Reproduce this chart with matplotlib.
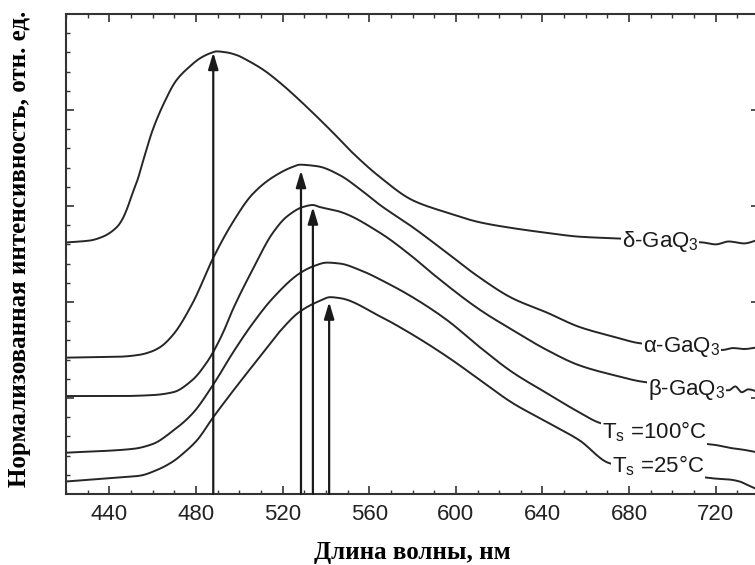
import matplotlib
matplotlib.use("Agg")
import numpy as np
import matplotlib.pyplot as plt
from matplotlib.ticker import MultipleLocator

plt.rcParams["font.family"] = ["Liberation Sans", "DejaVu Sans"]
plt.rcParams["mathtext.fontset"] = "custom"
plt.rcParams["mathtext.rm"] = "Liberation Sans"
plt.rcParams["mathtext.default"] = "regular"

# Photoluminescence spectra, normalized and offset vertically
wl_delta = [420, 431, 437, 443.5, 446, 448, 451, 453, 456, 460, 465, 471, 477, 482, 486.5,
            489.5, 494, 499, 503.5, 511, 519, 526.5, 534, 543, 552.5, 565, 580, 596,
            611, 626, 642, 657, 676, 714, 720, 726, 733, 740]
i_delta = [2.62, 2.64, 2.68, 2.78, 2.86, 2.96, 3.15, 3.27, 3.50, 3.79, 4.06, 4.31, 4.45,
           4.54, 4.59, 4.61, 4.60, 4.57, 4.52, 4.42, 4.28, 4.13, 3.97, 3.77, 3.55, 3.30,
           3.06, 2.93, 2.83, 2.77, 2.72, 2.68, 2.66, 2.62, 2.60, 2.63, 2.61, 2.65]

wl_alpha = [420, 445, 454, 459, 463.5, 469.5, 478.5, 488, 497, 506, 515.5, 525, 528,
            534, 537, 546.5, 556, 565, 580, 596, 610, 626, 642, 657, 672.5, 685,
            723, 728, 733, 740]
i_alpha = [1.42, 1.43, 1.45, 1.48, 1.53, 1.66, 1.99, 2.46, 2.83, 3.12, 3.30, 3.41, 3.43,
           3.42, 3.41, 3.32, 3.17, 3.01, 2.78, 2.51, 2.27, 2.04, 1.89, 1.74, 1.64, 1.57,
           1.50, 1.52, 1.51, 1.53]

wl_beta = [420, 445, 460, 469.5, 478.5, 485, 488, 492.5, 497, 506, 515.5, 522, 529.5, 534,
           537, 546.5, 565, 580, 589.5, 611, 626, 642, 657, 672.5, 686, 726, 729,
           732, 735, 740]
i_beta = [1.02, 1.02, 1.03, 1.06, 1.19, 1.37, 1.48, 1.68, 1.92, 2.33, 2.72, 2.89, 2.99, 3.01,
          2.99, 2.94, 2.72, 2.47, 2.29, 1.92, 1.71, 1.50, 1.34, 1.24, 1.17, 1.08, 1.12,
          1.06, 1.09, 1.06]

wl_t100 = [420, 451, 460, 469.5, 478.5, 488, 497, 506, 515.5, 528, 534, 540.5, 546.5, 556,
           568, 580, 596, 611, 626, 642, 657, 666.5, 712.5, 720, 726.5, 733, 740]
i_t100 = [0.43, 0.47, 0.52, 0.66, 0.84, 1.14, 1.47, 1.77, 2.04, 2.30, 2.37, 2.41, 2.40, 2.33,
          2.20, 2.05, 1.81, 1.53, 1.27, 1.05, 0.85, 0.74, 0.53, 0.51, 0.48, 0.46, 0.43]

wl_t25 = [420, 443.5, 454, 462, 469.5, 474, 480.5, 488, 497, 506, 513, 519, 528, 537, 542,
          546.5, 565, 580, 596, 611, 626, 642, 657, 671, 712.5, 720, 726.5, 731, 735, 740]
i_t25 = [0.13, 0.17, 0.19, 0.25, 0.34, 0.42, 0.56, 0.80, 1.07, 1.33, 1.53, 1.70, 1.90, 2.01,
         2.05, 2.04, 1.85, 1.66, 1.43, 1.19, 0.95, 0.75, 0.56, 0.32, 0.18, 0.16, 0.15, 0.13,
         0.09, 0.04]

# Peak positions marked with arrows (wavelength, arrow top)
peak_wl = [488, 528.5, 534, 541.5]
peak_top = [4.60, 3.37, 2.99, 2.00]

series = [
    (wl_delta, i_delta, r"δ-GaQ$_3$", 676.5, 2.57),
    (wl_alpha, i_alpha, r"α-GaQ$_3$", 686.5, 1.48),
    (wl_beta, i_beta, r"β-GaQ$_3$", 688.5, 1.03),
    (wl_t100, i_t100, r"T$_s$ =100°C", 667.5, 0.58),
    (wl_t25, i_t25, r"T$_s$ =25°C", 672.0, 0.22),
]


def pchip(x, y, per_seg=16):
    """Shape-preserving cubic through the spectrum points, for a smooth trace."""
    x = np.asarray(x, float)
    y = np.asarray(y, float)
    h = np.diff(x)
    d = np.diff(y) / h
    m = np.zeros_like(y)
    m[0], m[-1] = d[0], d[-1]
    for k in range(1, len(x) - 1):
        if d[k - 1] * d[k] > 0:
            w1 = 2 * h[k] + h[k - 1]
            w2 = h[k] + 2 * h[k - 1]
            m[k] = (w1 + w2) / (w1 / d[k - 1] + w2 / d[k])
    xs, ys = [], []
    t = np.linspace(0, 1, per_seg, endpoint=False)
    for k in range(len(x) - 1):
        h00 = 2 * t**3 - 3 * t**2 + 1
        h10 = t**3 - 2 * t**2 + t
        h01 = -2 * t**3 + 3 * t**2
        h11 = t**3 - t**2
        xs.append(x[k] + t * h[k])
        ys.append(h00 * y[k] + h10 * h[k] * m[k] + h01 * y[k + 1] + h11 * h[k] * m[k + 1])
    xs.append([x[-1]])
    ys.append([y[-1]])
    return np.concatenate(xs), np.concatenate(ys)


fig = plt.figure(figsize=(7.55, 5.65), dpi=100)
ax = fig.add_axes([0.0874, 0.1257, 0.918, 0.8496])

line_color = "#262626"
for wl, vals, label, lx, ly in series:
    sx, sy = pchip(wl, vals)
    ax.plot(sx, sy, color=line_color, lw=1.4, zorder=2)
    ax.text(lx, ly, label, fontsize=16, color="#1a1a1a", ha="left", va="baseline",
            zorder=4, bbox=dict(fc="white", ec="none", pad=0.6))

for x, top in zip(peak_wl, peak_top):
    ax.annotate("", xy=(x, top), xytext=(x, 0),
                arrowprops=dict(arrowstyle="-|>,head_width=0.3,head_length=1.0",
                                color="#1a1a1a", lw=1.6, shrinkA=0, shrinkB=0),
                zorder=3)

ax.set_xlim(420, 740)
ax.set_ylim(0, 5)
ax.xaxis.set_minor_locator(MultipleLocator(10))
ax.yaxis.set_major_locator(MultipleLocator(1))
ax.yaxis.set_minor_locator(MultipleLocator(0.2))
ax.set_xticks([440, 480, 520, 560, 600, 640, 680, 720])
ax.tick_params(which="both", direction="in", top=True, right=True, color="#333333",
               labelleft=False, labelsize=16, labelcolor="#222222", pad=7)
ax.tick_params(which="major", length=6, width=1.2)
ax.tick_params(which="minor", length=3, width=1.0)
for spine in ax.spines.values():
    spine.set_linewidth(1.5)
    spine.set_color("#333333")

ax.set_xlabel("Длина волны, нм", fontfamily="Liberation Serif", fontweight="bold",
              fontsize=18, labelpad=12)
fig.text(0.026, 0.56, "Нормализованная интенсивность, отн. ед.",
         fontfamily="Liberation Serif", fontweight="bold", fontsize=18,
         rotation=90, ha="center", va="center")

fig.savefig("out.png", dpi=100)
